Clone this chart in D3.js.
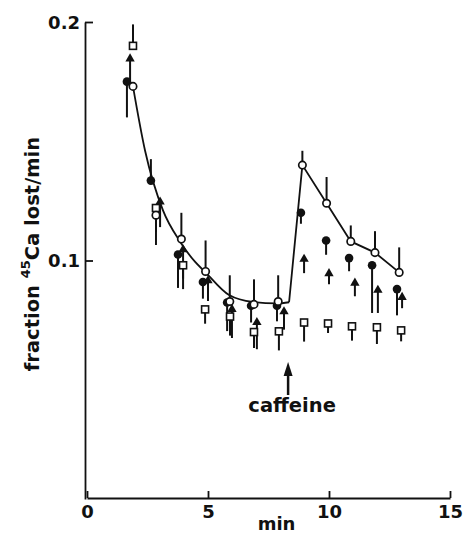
<!DOCTYPE html>
<html>
<head>
<meta charset="utf-8">
<script src="https://cdn.jsdelivr.net/npm/d3@7"></script>
<style>
  body { margin: 0; background: #fff; }
  svg text { font-family: "DejaVu Sans", sans-serif; font-weight: bold; fill: #111; }
</style>
</head>
<body>
<div id="chart"></div>
<script>
// open circles (with fitted line)
const openT = [1.9, 2.85, 3.9, 4.9, 5.9, 6.9, 7.9, 8.9, 9.9, 10.9, 11.9, 12.9];
const openV = [0.173, 0.119, 0.109, 0.0954, 0.0828, 0.0816, 0.0828, 0.140, 0.124, 0.108, 0.1033, 0.095];
const openE = [0, -0.0125, 0.011, 0.013, 0.011, 0.0105, 0.011, 0.006, 0.011, 0.0067, 0.009, 0.0105];

// filled circles
const fillT = [1.65, 2.64, 3.76, 4.79, 5.79, 6.78, 7.85, 8.84, 9.88, 10.83, 11.78, 12.81];
const fillV = [0.175, 0.1335, 0.1025, 0.091, 0.0824, 0.081, 0.081, 0.120, 0.1084, 0.101, 0.098, 0.088];
const fillE = [-0.015, 0.009, -0.014, -0.007, -0.012, -0.007, -0.0065, -0.0046, -0.006, -0.0055, -0.02, -0.011];

// filled triangles
const triT = [1.78, 3.02, 3.97, 5.0, 5.99, 7.02, 8.14, 8.97, 10.0, 11.07, 12.02, 13.02];
const triV = [0.185, 0.125, 0.105, 0.092, 0.080, 0.0745, 0.079, 0.101, 0.095, 0.091, 0.088, 0.085];
const triE = [-0.012, -0.011, -0.0126, -0.009, -0.0125, -0.0117, -0.008, -0.0063, -0.005, -0.006, -0.01, -0.005];

// open squares
const sqT = [1.9, 2.85, 3.97, 4.88, 5.91, 6.9, 7.93, 8.97, 9.96, 10.95, 11.98, 12.98];
const sqV = [0.190, 0.122, 0.098, 0.0795, 0.0765, 0.070, 0.0703, 0.074, 0.0736, 0.0724, 0.072, 0.0707];
const sqE = [0.009, -0.01, -0.01, -0.006, -0.008, -0.0067, -0.008, -0.008, -0.004, -0.006, -0.007, -0.0046];

// fitted decay curve before caffeine
const fitT = [1.9, 2.4, 3.14, 3.84, 4.46, 4.88, 5.87, 6.86, 7.85, 8.35];
const fitV = [0.173, 0.146, 0.121, 0.108, 0.0995, 0.0952, 0.0855, 0.0826, 0.082, 0.0825];

const caffeineT = 8.31;
const xTicks = [0, 5, 10, 15];
const yTicks = [0.1, 0.2];

const width = 464, height = 533;
const ink = '#111';

const x = d3.scaleLinear().domain([0, 15]).range([87, 450]);
const y = d3.scaleLinear().domain([0, 0.2]).range([499, 22]);

const svg = d3.select('#chart').append('svg')
    .attr('width', width)
    .attr('height', height);

// axes
const xAxis = svg.append('g')
    .attr('transform', `translate(0,${y(0) - 1})`)
    .call(d3.axisBottom(x).tickValues(xTicks).tickFormat(d3.format('d'))
        .tickSize(-7).tickSizeOuter(0).tickPadding(7));

const yAxis = svg.append('g')
    .attr('transform', `translate(${x(0) - 2},0)`)
    .call(d3.axisLeft(y).tickValues(yTicks).tickFormat(d3.format('.1f'))
        .tickSize(-8).tickSizeOuter(0).tickPadding(5));

[xAxis, yAxis].forEach(g => {
    g.selectAll('path, line').attr('stroke', ink).attr('stroke-width', 1.8);
    g.selectAll('text').attr('font-size', 18).attr('fill', ink)
        .attr('font-family', '"DejaVu Sans", sans-serif').attr('font-weight', 'bold');
});
yAxis.selectAll('text').attr('dy', '0.36em');

svg.append('text')
    .attr('x', (x(0) + x(15)) / 2 + 8)
    .attr('y', 530)
    .attr('text-anchor', 'middle')
    .attr('font-size', 18)
    .text('min');

const yl = svg.append('text')
    .attr('transform', 'translate(39,254) rotate(-90)')
    .attr('text-anchor', 'middle')
    .attr('font-size', 19.5);
yl.append('tspan').text('fraction ');
yl.append('tspan').attr('font-size', 13).attr('dy', -9).text('45');
yl.append('tspan').attr('dy', 9).text('Ca lost/min');

// helpers
function zipSeries(ts, vs, es) {
    return ts.map((t, i) => ({t: t, v: vs[i], e: es[i]}));
}
const openData = zipSeries(openT, openV, openE);
const fillData = zipSeries(fillT, fillV, fillE);
const triData = zipSeries(triT, triV, triE);
const sqData = zipSeries(sqT, sqV, sqE);

// error bars
const bars = svg.append('g').attr('stroke', ink).attr('stroke-width', 2);
[openData, fillData, triData, sqData].forEach(data => {
    bars.selectAll(null)
        .data(data.filter(d => d.e !== 0))
        .join('line')
            .attr('x1', d => x(d.t))
            .attr('x2', d => x(d.t))
            .attr('y1', d => y(d.v))
            .attr('y2', d => y(d.v + d.e));
});

// fitted line
const fitData = fitT.map((t, i) => ({t: t, v: fitV[i]}));
svg.append('path')
    .datum(fitData)
    .attr('fill', 'none')
    .attr('stroke', ink)
    .attr('stroke-width', 1.8)
    .attr('d', d3.line().x(d => x(d.t)).y(d => y(d.v)).curve(d3.curveMonotoneX));

const afterData = [fitData[fitData.length - 1]].concat(openData.filter(d => d.t > caffeineT));
svg.append('path')
    .datum(afterData)
    .attr('fill', 'none')
    .attr('stroke', ink)
    .attr('stroke-width', 1.8)
    .attr('d', d3.line().x(d => x(d.t)).y(d => y(d.v)));

// markers
svg.append('g').selectAll('rect')
    .data(sqData)
    .join('rect')
        .attr('x', d => x(d.t) - 3.5)
        .attr('y', d => y(d.v) - 3.5)
        .attr('width', 7)
        .attr('height', 7)
        .attr('fill', '#fff')
        .attr('stroke', ink)
        .attr('stroke-width', 1.6);

svg.append('g').selectAll('path')
    .data(triData)
    .join('path')
        .attr('transform', d => `translate(${x(d.t)},${y(d.v) + 1})`)
        .attr('d', d3.symbol(d3.symbolTriangle, 38))
        .attr('fill', ink);

svg.append('g').selectAll('circle')
    .data(fillData)
    .join('circle')
        .attr('cx', d => x(d.t))
        .attr('cy', d => y(d.v))
        .attr('r', 4.3)
        .attr('fill', ink);

svg.append('g').selectAll('circle')
    .data(openData)
    .join('circle')
        .attr('cx', d => x(d.t))
        .attr('cy', d => y(d.v))
        .attr('r', 3.7)
        .attr('fill', '#fff')
        .attr('stroke', ink)
        .attr('stroke-width', 1.7);

// caffeine arrow
const ax = x(caffeineT);
svg.append('line')
    .attr('x1', ax).attr('x2', ax)
    .attr('y1', 395).attr('y2', 372)
    .attr('stroke', ink).attr('stroke-width', 2.5);
svg.append('path')
    .attr('d', `M${ax},362 L${ax - 4.5},376 L${ax + 4.5},376 Z`)
    .attr('fill', ink);
svg.append('text')
    .attr('x', ax + 4)
    .attr('y', 412)
    .attr('text-anchor', 'middle')
    .attr('font-size', 19.5)
    .text('caffeine');
</script>
</body>
</html>
